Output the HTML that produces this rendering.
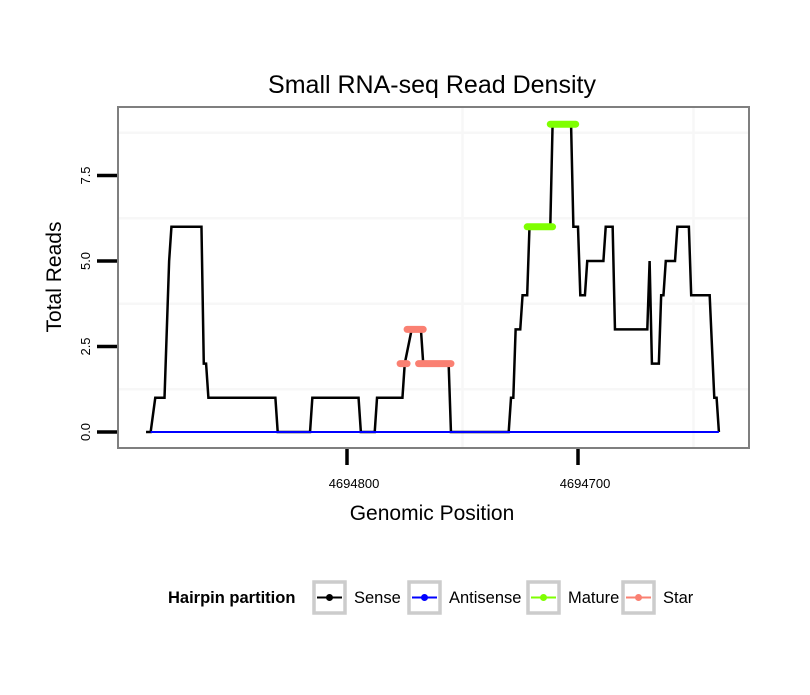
<!DOCTYPE html>
<html><head><meta charset="utf-8"><style>
body{margin:0;background:#fff;font-family:"Liberation Sans",sans-serif}
svg text{font-family:"Liberation Sans",sans-serif}
</style></head><body>
<svg id="c" width="810" height="690" xmlns="http://www.w3.org/2000/svg">
<rect width="810" height="690" fill="#fff"/>
<text x="432" y="93" text-anchor="middle" font-size="25">Small RNA-seq Read Density</text>
<g id="grid"></g>
<g id="series"></g>
<rect x="118" y="107" width="631" height="341" fill="none" stroke="#7f7f7f" stroke-width="2"/>
<g id="axes"></g>
<text x="432" y="520" text-anchor="middle" font-size="21">Genomic Position</text>
<text transform="translate(61,277) rotate(-90)" text-anchor="middle" font-size="21">Total Reads</text>
<g id="legend"></g>
</svg>
<script>
const sensePos=[4694887,4694885,4694883,4694879,4694877,4694876,4694863,4694862,4694861,4694860,4694831,4694830,4694816,4694815,4694795,4694794,4694788,4694787,4694776,4694775,4694772,4694768,4694767,4694756,4694755,4694730,4694729,4694728,4694727,4694725,4694724,4694722,4694721,4694712,4694711,4694703,4694702,4694700,4694699,4694697,4694696,4694689,4694688,4694685,4694684,4694670,4694669,4694668,4694665,4694664,4694663,4694662,4694658,4694657,4694652,4694651,4694643,4694641,4694640,4694639];
const senseVal=[0,0,1,1,5,6,6,2,2,1,1,0,0,1,1,0,0,1,1,2,3,3,2,2,0,0,1,1,3,3,4,4,6,6,9,9,6,6,4,4,5,5,6,6,3,3,5,2,2,4,4,5,5,6,6,4,4,1,1,0];
const antiPos=[4694885,4694639];
const antiVal=[0,0];
const maturePos=[[4694722,4694711],[4694712,4694701]];
const matureVal=[6,9];
const starPos=[[4694777,4694774],[4694774,4694767],[4694769,4694755]];
const starVal=[2,3,2];
const yTicks=[0,2.5,5,7.5];
const yTickLabels=["0.0","2.5","5.0","7.5"];
const xTicks=[4694800,4694700];
const xTickLabels=["4694800","4694700"];
const legendLabels=["Sense","Antisense","Mature","Star"];
const legendColors=["#000","#0000ff","#7fff00","#fa8072"];

const NS="http://www.w3.org/2000/svg";
const X=p=>347+(4694800-p)*2.31;
const Y=v=>432-v*34.2;
function mk(t,a,parent){const e=document.createElementNS(NS,t);for(const k in a)e.setAttribute(k,a[k]);document.getElementById(parent).appendChild(e);return e;}

[4694750,4694650].forEach(p=>{const l=mk('line',{x1:X(p),x2:X(p),y1:108,y2:447,stroke:'#f7f7f7','stroke-width':2.5},'grid');

});
[1.25,3.75,6.25,8.75].forEach(v=>{const l=mk('line',{x1:119,x2:748,y1:Y(v),y2:Y(v),stroke:'#f7f7f7','stroke-width':2.5},'grid');

});

yTicks.forEach((v,i)=>{const t=mk('line',{x1:97,x2:117,y1:Y(v),y2:Y(v),stroke:'#000','stroke-width':3.5},'axes');


const tx=mk('text',{transform:`translate(90,${Y(v)}) rotate(-90)`,'text-anchor':'middle','font-size':13},'axes');tx.textContent=yTickLabels[i];

});
xTicks.forEach((p,i)=>{const t=mk('line',{x1:X(p),x2:X(p),y1:449,y2:465,stroke:'#000','stroke-width':3.5},'axes');


const tx=mk('text',{x:X(p)+7,y:488,'text-anchor':'middle','font-size':13},'axes');tx.textContent=xTickLabels[i];

});

const pts=(ps,vs)=>ps.map((p,i)=>X(p)+','+Y(vs[i])).join(' ');
const s=mk('polyline',{points:pts(sensePos,senseVal),fill:'none',stroke:'#000','stroke-width':2.5,'stroke-linejoin':'miter'},'series');


const a=mk('polyline',{points:pts(antiPos,antiVal),fill:'none',stroke:'#0000ff','stroke-width':2},'series');


maturePos.forEach((r,i)=>{const l=mk('line',{x1:X(r[0]),x2:X(r[1]),y1:Y(matureVal[i]),y2:Y(matureVal[i]),stroke:'#7fff00','stroke-width':7,'stroke-linecap':'round'},'series');

});
starPos.forEach((r,i)=>{const l=mk('line',{x1:X(r[0]),x2:X(r[1]),y1:Y(starVal[i]),y2:Y(starVal[i]),stroke:'#fa8072','stroke-width':7,'stroke-linecap':'round'},'series');

});

const lt=mk('text',{x:168,y:603,'font-size':16.5,'font-weight':'bold'},'legend');lt.textContent='Hairpin partition';


const bx=[314,409,528,623];
legendLabels.forEach((lab,i)=>{const b=mk('rect',{x:bx[i],y:582,width:31,height:31,fill:'#fff',stroke:'#cccccc','stroke-width':3.5},'legend');


mk('line',{x1:bx[i]+3,x2:bx[i]+28,y1:597.5,y2:597.5,stroke:legendColors[i],'stroke-width':2},'legend');
mk('circle',{cx:bx[i]+15.5,cy:597.5,r:3.5,fill:legendColors[i]},'legend');
const t=mk('text',{x:bx[i]+40,y:603,'font-size':16.5},'legend');t.textContent=lab;

});
</script>
</body></html>
